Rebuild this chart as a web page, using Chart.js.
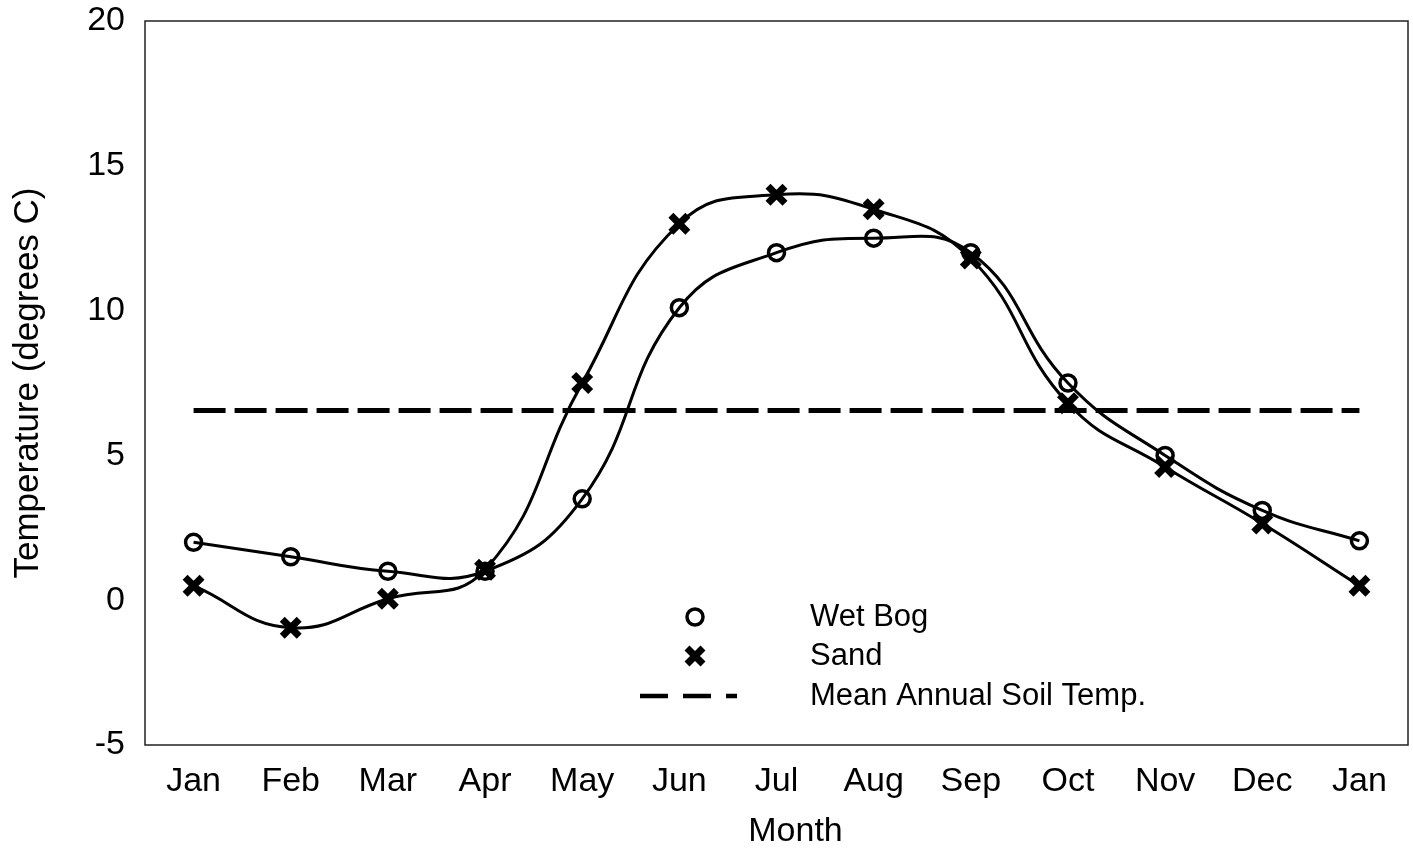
<!DOCTYPE html>
<html>
<head>
<meta charset="utf-8">
<script src="https://cdn.jsdelivr.net/npm/chart.js@4/dist/chart.umd.min.js"></script>
<style>
  html, body { margin: 0; padding: 0; background: #fff; overflow: hidden; }
  canvas { display: block; }
</style>
</head>
<body>
<canvas id="c" width="1413" height="849" style="width:1413px;height:849px"></canvas>
<script>
const months = ['Jan','Feb','Mar','Apr','May','Jun','Jul','Aug','Sep','Oct','Nov','Dec','Jan'];
const wetBog = [2.0, 1.5, 1.0, 1.0, 3.5, 10.1, 12.0, 12.5, 12.0, 7.5, 5.0, 3.1, 2.05];
const sand = [0.5, -0.95, 0.05, 1.05, 7.5, 13.0, 14.0, 13.5, 11.8, 6.8, 4.6, 2.65, 0.5];
const meanAnnual = 6.55;
const meanLine = months.map(() => meanAnnual);
const yTicks = [-5, 0, 5, 10, 15, 20];

const FONT = '"Liberation Sans", Arial, sans-serif';

const frame = {
  id: 'frame',
  afterDraw(chart) {
    const {ctx, chartArea: a} = chart;
    ctx.save();
    ctx.strokeStyle = '#222';
    ctx.lineWidth = 1.5;
    ctx.strokeRect(a.left, a.top, a.right - a.left, a.bottom - a.top);
    // x-axis title
    ctx.fillStyle = '#000';
    ctx.font = '34px ' + FONT;
    ctx.textAlign = 'center';
    ctx.textBaseline = 'middle';
    ctx.fillText('Month', (a.left + a.right) / 2 + 19, a.bottom + 87);
    ctx.restore();
  }
};

const legendBox = {
  id: 'legendBox',
  afterDraw(chart) {
    const {ctx, chartArea: a} = chart;
    const mx = a.left + 550, tx = a.left + 665;
    const rows = [a.top + 596, a.top + 635, a.top + 675];
    ctx.save();
    ctx.strokeStyle = '#000';
    ctx.fillStyle = '#000';
    ctx.lineWidth = 3.5;
    ctx.beginPath();
    ctx.arc(mx, rows[0], 8, 0, Math.PI * 2);
    ctx.stroke();
    ctx.lineWidth = 7;
    const o = 8;
    ctx.beginPath();
    ctx.moveTo(mx - o, rows[1] - o); ctx.lineTo(mx + o, rows[1] + o);
    ctx.moveTo(mx + o, rows[1] - o); ctx.lineTo(mx - o, rows[1] + o);
    ctx.stroke();
    ctx.lineWidth = 4.5;
    ctx.setLineDash([28, 15]);
    ctx.beginPath();
    ctx.moveTo(mx - 55, rows[2]); ctx.lineTo(mx + 42, rows[2]);
    ctx.stroke();
    ctx.setLineDash([]);
    ctx.font = '31px ' + FONT;
    ctx.textBaseline = 'middle';
    ctx.textAlign = 'left';
    ctx.fillText('Wet Bog', tx, rows[0]);
    ctx.fillText('Sand', tx, rows[1]);
    ctx.fillText('Mean Annual Soil Temp.', tx, rows[2]);
    ctx.restore();
  }
};

Chart.defaults.color = '#000';
Chart.defaults.font.family = FONT;

new Chart(document.getElementById('c'), {
  type: 'line',
  data: {
    labels: months,
    datasets: [
      {
        label: 'Mean Annual Soil Temp.',
        data: meanLine,
        borderColor: '#000',
        borderWidth: 5,
        borderDash: [32, 9],
        pointRadius: 0,
        tension: 0,
        fill: false
      },
      {
        label: 'Wet Bog',
        data: wetBog,
        borderColor: '#000',
        borderWidth: 3,
        tension: 0.45,
        pointStyle: 'circle',
        pointRadius: 8,
        pointBorderWidth: 3.5,
        pointBackgroundColor: 'rgba(0,0,0,0)',
        pointBorderColor: '#000',
        fill: false
      },
      {
        label: 'Sand',
        data: sand,
        borderColor: '#000',
        borderWidth: 3,
        tension: 0.45,
        pointStyle: 'crossRot',
        pointRadius: 12,
        pointBorderWidth: 7,
        pointBorderColor: '#000',
        fill: false
      }
    ]
  },
  options: {
    responsive: false,
    maintainAspectRatio: false,
    devicePixelRatio: 1,
    animation: false,
    layout: { autoPadding: false, padding: { top: 21, right: 5, bottom: 0, left: 0 } },
    plugins: { legend: { display: false }, tooltip: { enabled: false } },
    scales: {
      x: {
        offset: true,
        grid: { display: false, drawTicks: false },
        border: { display: false },
        ticks: { padding: 16, font: { size: 34 }, autoSkip: false, maxRotation: 0 },
        title: { display: false, text: 'Month' },
        afterFit(s) { s.height = 104; s.paddingLeft = 0; s.paddingRight = 0; }
      },
      y: {
        min: -5, max: 20,
        grid: { display: false, drawTicks: false },
        border: { display: false },
        afterBuildTicks(s) { s.ticks = yTicks.map(v => ({ value: v })); },
        ticks: { padding: 20, font: { size: 34 } },
        title: { display: true, text: 'Temperature (degrees C)', font: { size: 35 }, padding: { top: 7, bottom: 0 } },
        afterFit(s) { s.width = 145; s.paddingTop = 0; s.paddingBottom = 0; }
      }
    }
  },
  plugins: [frame, legendBox]
});
</script>
</body>
</html>
